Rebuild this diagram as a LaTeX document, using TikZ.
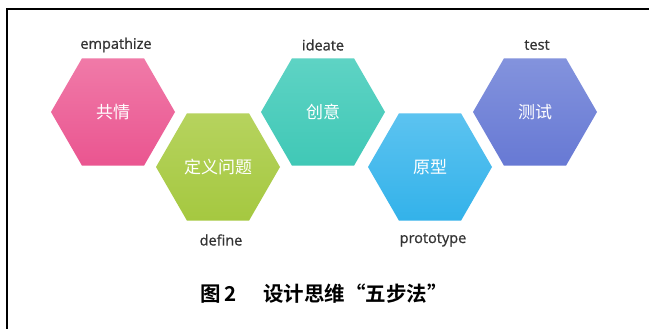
\documentclass[tikz,border=0pt]{standalone}
\usepackage{fontspec}
\setmainfont{Open Sans}
\newfontfamily\labelfont[FakeBold=0.8]{Open Sans}
\newfontfamily\cjk{Noto Sans CJK SC}
\newfontfamily\cjkbold{Noto Sans CJK SC Bold}
\usetikzlibrary{shapes.geometric}
\definecolor{pinkC}{HTML}{EA5590}
\definecolor{pinkL}{HTML}{F07AA8}
\definecolor{greenC}{HTML}{A5C840}
\definecolor{greenL}{HTML}{B6D35E}
\definecolor{tealC}{HTML}{40C8B6}
\definecolor{tealL}{HTML}{5ED3C4}
\definecolor{blueC}{HTML}{33B2EA}
\definecolor{blueL}{HTML}{5CC3F0}
\definecolor{purpC}{HTML}{6779D4}
\definecolor{purpL}{HTML}{8393DD}
\definecolor{labelC}{HTML}{333333}
\tikzset{
  hexa/.style={regular polygon, regular polygon sides=6, minimum size=124pt,
    inner sep=0pt, text=white, font=\cjk\fontsize{17}{17}\selectfont},
  steplabel/.style={text=labelC, font=\labelfont\fontsize{14.5}{14.5}\selectfont, inner sep=0pt},
  frameline/.style={line width=2pt, black},
}
\begin{document}
\begin{tikzpicture}[x=1pt,y=-1pt]
\useasboundingbox (0,0) rectangle (649,329);
\fill[white] (0,0) rectangle (649,329);
\coordinate (fb) at (7,329);
\coordinate (fc) at (7,9);
\coordinate (fr) at (649,9);
\draw[frameline] (fb) -- (fc) -- (fr);

\node[hexa, top color=pinkL, bottom color=pinkC] (h1) at (113,112) {共情};
\node[hexa, top color=greenL, bottom color=greenC] (h2) at (218,167) {定义问题};
\node[hexa, top color=tealL, bottom color=tealC] (h3) at (323,112) {创意};
\node[hexa, top color=blueL, bottom color=blueC] (h4) at (430,167) {原型};
\node[hexa, top color=purpL, bottom color=purpC] (h5) at (535,112) {测试};

\node[steplabel] (l1) at (116,45) {empathize};
\node[steplabel] (l3) at (323,45) {ideate};
\node[steplabel] (l5) at (537,45) {test};
\node[steplabel] (l2) at (221,240) {define};
\node[steplabel] (l4) at (433,240) {prototype};

\node[font=\cjkbold\fontsize{20.5}{20.5}\selectfont, inner sep=0pt] (cap) at (324,294) {图\,2\hspace{1.3em}设计思维“五步法”};
\end{tikzpicture}
\end{document}
